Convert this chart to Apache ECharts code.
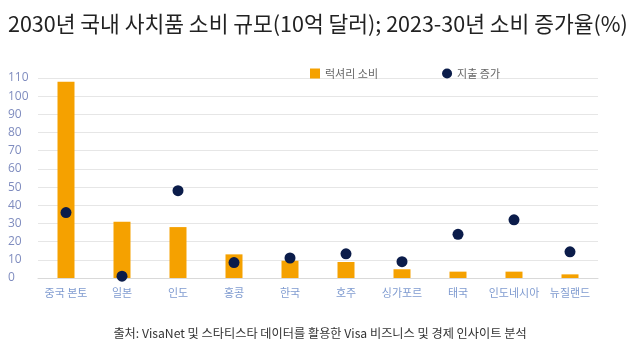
<!DOCTYPE html>
<html><head><meta charset="utf-8">
<script src="https://cdn.jsdelivr.net/npm/echarts@6/dist/echarts.min.js"></script>
<style>html,body{margin:0;padding:0;background:#fff}#c{width:640px;height:360px}</style>
</head><body><div id="c"></div>
<script>
const categories = ['중국 본토','일본','인도','홍콩','한국','호주','싱가포르','태국','인도네시아','뉴질랜드'];
const luxurySpend = [108, 31, 28, 13, 9.5, 8.8, 4.8, 3.5, 3.5, 2];
const spendGrowth = [36, 1, 48, 8.5, 11, 13.3, 9, 24, 32, 14.4];
const yTicks = [0,10,20,30,40,50,60,70,80,90,100,110];
const titleText = '2030년 국내 사치품 소비 규모(10억 달러); 2023-30년 소비 증가율(%)';
const sourceText = '출처: VisaNet 및 스타티스타 데이터를 활용한 Visa 비즈니스 및 경제 인사이트 분석';
const FONT = '"Noto Sans CJK KR", "Noto Sans", sans-serif';
const chart = echarts.init(document.getElementById('c'));
chart.setOption({
  animation: false,
  textStyle: {fontFamily: FONT},
  title: [
    {text: titleText, left: 3, top: 8, textStyle: {fontFamily: FONT, fontSize: 21.5, fontWeight: 'normal', color: '#222'}},
    {text: sourceText, left: 'center', top: 322, textStyle: {fontFamily: FONT, fontSize: 12.2, fontWeight: 'normal', color: '#333'}}
  ],
  legend: {
    top: 63, left: 305, itemGap: 64, itemWidth: 10, itemHeight: 10,
    textStyle: {fontFamily: FONT, fontSize: 11, color: '#666'},
    data: [{name: '럭셔리 소비', icon: 'rect'}, {name: '지출 증가', icon: 'circle'}]
  },
  grid: {left: 38, right: 42, top: 78, bottom: 82, containLabel: false},
  xAxis: {
    type: 'category', data: categories,
    axisLine: {show: true, lineStyle: {color: '#d9d9d9'}},
    axisTick: {show: false},
    axisLabel: {color: '#7f9bd0', fontSize: 11, margin: 9, interval: 0}
  },
  yAxis: {
    type: 'value', min: 0, max: 110, interval: 10,
    axisLine: {show: false}, axisTick: {show: false},
    axisLabel: {color: '#7f8cbf', fontSize: 12, margin: 30, align: 'left', fontFamily: '"Open Sans", sans-serif'},
    splitLine: {lineStyle: {color: '#e6e6e6'}}
  },
  series: [
    {name: '럭셔리 소비', type: 'bar', data: luxurySpend, barWidth: 17, itemStyle: {color: '#f5a100'}},
    {name: '지출 증가', type: 'scatter', data: spendGrowth, symbolSize: 11, itemStyle: {color: '#0b1c4a', opacity: 1}, z: 5}
  ]
});
</script></body></html>
